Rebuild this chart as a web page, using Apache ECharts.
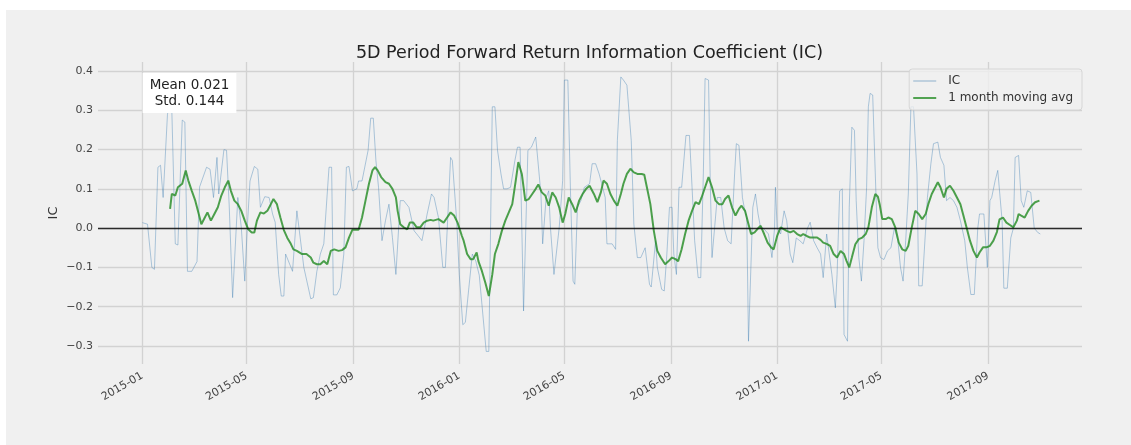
<!DOCTYPE html>
<html>
<head>
<meta charset="utf-8">
<script src="https://cdn.jsdelivr.net/npm/echarts@6/dist/echarts.min.js"></script>
<style>
  html, body { margin: 0; padding: 0; background: #fff; }
  #main { margin-left: 6px; margin-top: 10px; width: 1125px; height: 435px; }
</style>
</head>
<body>
<div id="main"></div>
<script>
const chartDom = document.getElementById('main')
const myChart = echarts.init(chartDom)

const chartTitle = '5D Period Forward Return Information Coefficient (IC)'
const statsText = 'Mean 0.021\nStd. 0.144'
const seriesNames = ['IC', '1 month moving avg']
const yTicks = [-0.3, -0.2, -0.1, 0.0, 0.1, 0.2, 0.3, 0.4]
const xTicks = ['2015-01', '2015-05', '2015-09', '2016-01', '2016-05', '2016-09', '2017-01', '2017-05', '2017-09']
const xRange = ['2014-11-11', '2017-12-18']
const yRange = [-0.346, 0.423]

// daily IC at its turning points
const icDates = [
    '2015-01-01', '2015-01-07', '2015-01-12', '2015-01-15', '2015-01-19', '2015-01-22', '2015-01-25', '2015-01-30',
    '2015-02-01', '2015-02-04', '2015-02-08', '2015-02-11', '2015-02-16', '2015-02-19', '2015-02-22', '2015-02-27',
    '2015-03-05', '2015-03-08', '2015-03-16', '2015-03-20', '2015-03-24', '2015-03-28', '2015-03-30', '2015-04-05',
    '2015-04-08', '2015-04-11', '2015-04-15', '2015-04-17', '2015-04-21', '2015-04-25', '2015-04-29', '2015-05-02',
    '2015-05-05', '2015-05-10', '2015-05-14', '2015-05-17', '2015-05-22', '2015-05-27', '2015-05-31', '2015-06-03',
    '2015-06-07', '2015-06-10', '2015-06-13', '2015-06-15', '2015-06-23', '2015-06-28', '2015-06-30', '2015-07-06',
    '2015-07-14', '2015-07-17', '2015-07-21', '2015-07-25', '2015-07-29', '2015-08-04', '2015-08-07', '2015-08-09',
    '2015-08-13', '2015-08-17', '2015-08-21', '2015-08-24', '2015-08-27', '2015-08-31', '2015-09-05', '2015-09-07',
    '2015-09-11', '2015-09-18', '2015-09-21', '2015-09-24', '2015-09-27', '2015-09-30', '2015-10-04', '2015-10-08',
    '2015-10-12', '2015-10-16', '2015-10-20', '2015-10-22', '2015-10-25', '2015-10-29', '2015-11-04', '2015-11-10',
    '2015-11-13', '2015-11-19', '2015-11-25', '2015-11-30', '2015-12-03', '2015-12-08', '2015-12-13', '2015-12-16',
    '2015-12-20', '2015-12-22', '2015-12-24', '2015-12-29', '2016-01-01', '2016-01-05', '2016-01-08', '2016-01-12',
    '2016-01-16', '2016-01-20', '2016-01-24', '2016-02-01', '2016-02-04', '2016-02-08', '2016-02-11', '2016-02-14',
    '2016-02-18', '2016-02-21', '2016-02-25', '2016-02-29', '2016-03-05', '2016-03-08', '2016-03-11', '2016-03-13',
    '2016-03-15', '2016-03-17', '2016-03-20', '2016-03-24', '2016-03-29', '2016-03-31', '2016-04-04', '2016-04-06',
    '2016-04-08', '2016-04-10', '2016-04-13', '2016-04-15', '2016-04-19', '2016-04-21', '2016-04-25', '2016-04-29',
    '2016-05-01', '2016-05-05', '2016-05-08', '2016-05-11', '2016-05-13', '2016-05-16', '2016-05-20', '2016-05-24',
    '2016-05-30', '2016-06-02', '2016-06-06', '2016-06-10', '2016-06-13', '2016-06-17', '2016-06-19', '2016-06-25',
    '2016-06-29', '2016-07-01', '2016-07-05', '2016-07-08', '2016-07-12', '2016-07-14', '2016-07-17', '2016-07-20',
    '2016-07-24', '2016-07-28', '2016-08-02', '2016-08-07', '2016-08-09', '2016-08-14', '2016-08-16', '2016-08-21',
    '2016-08-24', '2016-08-27', '2016-08-30', '2016-09-02', '2016-09-04', '2016-09-07', '2016-09-10', '2016-09-13',
    '2016-09-18', '2016-09-22', '2016-09-25', '2016-09-28', '2016-10-02', '2016-10-05', '2016-10-08', '2016-10-10',
    '2016-10-14', '2016-10-16', '2016-10-18', '2016-10-20', '2016-10-24', '2016-10-28', '2016-11-01', '2016-11-05',
    '2016-11-09', '2016-11-13', '2016-11-15', '2016-11-18', '2016-11-22', '2016-11-24', '2016-11-27', '2016-11-29',
    '2016-12-01', '2016-12-04', '2016-12-07', '2016-12-10', '2016-12-13', '2016-12-16', '2016-12-22', '2016-12-26',
    '2016-12-29', '2016-12-30', '2017-01-01', '2017-01-05', '2017-01-09', '2017-01-12', '2017-01-16', '2017-01-19',
    '2017-01-23', '2017-01-27', '2017-01-31', '2017-02-05', '2017-02-08', '2017-02-12', '2017-02-16', '2017-02-20',
    '2017-02-23', '2017-02-27', '2017-03-01', '2017-03-05', '2017-03-09', '2017-03-11', '2017-03-14', '2017-03-17',
    '2017-03-19', '2017-03-23', '2017-03-25', '2017-03-28', '2017-03-31', '2017-04-02', '2017-04-05', '2017-04-08',
    '2017-04-11', '2017-04-14', '2017-04-16', '2017-04-18', '2017-04-21', '2017-04-25', '2017-04-27', '2017-04-30',
    '2017-05-04', '2017-05-08', '2017-05-12', '2017-05-16', '2017-05-20', '2017-05-23', '2017-05-26', '2017-05-29',
    '2017-06-01', '2017-06-04', '2017-06-07', '2017-06-11', '2017-06-13', '2017-06-17', '2017-06-21', '2017-06-23',
    '2017-06-27', '2017-06-30', '2017-07-05', '2017-07-08', '2017-07-12', '2017-07-15', '2017-07-19', '2017-07-23',
    '2017-07-27', '2017-07-31', '2017-08-05', '2017-08-08', '2017-08-12', '2017-08-16', '2017-08-20', '2017-08-22',
    '2017-08-27', '2017-08-31', '2017-09-03', '2017-09-05', '2017-09-09', '2017-09-12', '2017-09-14', '2017-09-17',
    '2017-09-19', '2017-09-23', '2017-09-27', '2017-09-30', '2017-10-02', '2017-10-06', '2017-10-09', '2017-10-12',
    '2017-10-16', '2017-10-20', '2017-10-24', '2017-10-28', '2017-10-31'
]
const icValues = [
    0.014, 0.010, -0.100, -0.105, 0.155, 0.160, 0.078, 0.290,
    0.310, 0.300, -0.040, -0.043, 0.275, 0.270, -0.110, -0.110,
    -0.085, 0.105, 0.155, 0.150, 0.078, 0.180, 0.087, 0.200,
    0.198, 0.061, -0.177, -0.180, 0.078, 0.002, -0.135, 0.006,
    0.120, 0.157, 0.150, 0.053, 0.080, 0.078, 0.036, 0.015,
    -0.118, -0.173, -0.173, -0.066, -0.110, 0.044, 0.044, -0.100,
    -0.180, -0.177, -0.110, -0.066, -0.040, 0.155, 0.155, -0.170,
    -0.170, -0.152, -0.066, 0.155, 0.157, 0.095, 0.100, 0.120,
    0.120, 0.198, 0.280, 0.280, 0.172, 0.104, -0.032, 0.019,
    0.061, -0.024, -0.118, -0.115, 0.070, 0.070, 0.053, -0.007,
    -0.015, -0.032, 0.036, 0.087, 0.078, 0.027, -0.100, -0.100,
    0.087, 0.180, 0.172, 0.019, -0.118, -0.246, -0.240, -0.152,
    -0.066, -0.084, -0.120, -0.314, -0.314, 0.309, 0.309, 0.198,
    0.138, 0.100, 0.100, 0.104, 0.172, 0.206, 0.206, 0.000,
    -0.211, -0.211, 0.198, 0.206, 0.232, 0.232, 0.087, -0.040,
    -0.040, 0.078, 0.095, 0.000, -0.118, -0.118, 0.000, 0.121,
    0.377, 0.377, 0.095, -0.135, -0.143, 0.053, 0.070, 0.104,
    0.113, 0.164, 0.164, 0.138, 0.113, 0.078, -0.040, -0.040,
    -0.054, 0.223, 0.385, 0.377, 0.364, 0.360, 0.223, 0.010,
    -0.075, -0.075, -0.050, -0.143, -0.150, -0.032, -0.100, -0.156,
    -0.160, -0.066, 0.053, 0.053, -0.066, -0.118, 0.104, 0.104,
    0.236, 0.236, 0.104, -0.032, -0.126, -0.126, 0.138, 0.381,
    0.377, 0.113, -0.075, -0.075, 0.078, 0.078, 0.000, -0.032,
    -0.040, 0.138, 0.215, 0.211, 0.078, 0.053, 0.027, -0.288,
    -0.288, 0.053, 0.087, 0.036, 0.000, 0.000, -0.015, -0.075,
    0.000, 0.104, 0.000, -0.015, 0.044, 0.019, -0.066, -0.088,
    -0.025, -0.032, -0.040, 0.000, 0.015, -0.032, -0.050, -0.066,
    -0.126, -0.015, -0.015, -0.118, -0.203, -0.118, 0.095, 0.100,
    -0.271, -0.288, 0.053, 0.257, 0.249, 0.070, -0.075, -0.135,
    -0.032, 0.104, 0.309, 0.343, 0.339, 0.070, -0.050, -0.075,
    -0.080, -0.058, -0.050, 0.000, -0.032, -0.100, -0.135, -0.032,
    0.087, 0.309, 0.309, 0.138, -0.147, -0.147, 0.000, 0.078,
    0.164, 0.215, 0.219, 0.180, 0.160, 0.070, 0.078, 0.070,
    0.053, 0.019, -0.032, -0.100, -0.169, -0.169, 0.000, 0.036,
    0.036, -0.100, 0.070, 0.078, 0.121, 0.147, 0.147, 0.019,
    -0.153, -0.153, -0.025, 0.000, 0.180, 0.185, 0.070, 0.053,
    0.095, 0.091, 0.000, -0.011, -0.015
]

// 1 month (22 day) rolling mean of the IC
const maDates = [
    '2015-02-02', '2015-02-04', '2015-02-08', '2015-02-11', '2015-02-16', '2015-02-20', '2015-02-23', '2015-02-27',
    '2015-03-03', '2015-03-07', '2015-03-10', '2015-03-14', '2015-03-17', '2015-03-21', '2015-03-25', '2015-03-29',
    '2015-04-02', '2015-04-06', '2015-04-10', '2015-04-13', '2015-04-17', '2015-04-21', '2015-04-25', '2015-04-29',
    '2015-05-03', '2015-05-07', '2015-05-10', '2015-05-13', '2015-05-17', '2015-05-21', '2015-05-25', '2015-05-29',
    '2015-06-01', '2015-06-05', '2015-06-09', '2015-06-13', '2015-06-17', '2015-06-21', '2015-06-24', '2015-06-28',
    '2015-07-04', '2015-07-09', '2015-07-14', '2015-07-17', '2015-07-21', '2015-07-25', '2015-07-29', '2015-08-02',
    '2015-08-06', '2015-08-10', '2015-08-15', '2015-08-19', '2015-08-23', '2015-08-27', '2015-08-31', '2015-09-03',
    '2015-09-07', '2015-09-11', '2015-09-15', '2015-09-19', '2015-09-23', '2015-09-26', '2015-09-29', '2015-10-03',
    '2015-10-08', '2015-10-12', '2015-10-16', '2015-10-20', '2015-10-22', '2015-10-25', '2015-10-29', '2015-11-02',
    '2015-11-05', '2015-11-09', '2015-11-13', '2015-11-17', '2015-11-21', '2015-11-25', '2015-11-29', '2015-12-02',
    '2015-12-08', '2015-12-14', '2015-12-18', '2015-12-22', '2015-12-26', '2015-12-30', '2016-01-04', '2016-01-06',
    '2016-01-10', '2016-01-14', '2016-01-17', '2016-01-21', '2016-01-23', '2016-01-27', '2016-01-31', '2016-02-04',
    '2016-02-08', '2016-02-11', '2016-02-15', '2016-02-19', '2016-02-23', '2016-02-27', '2016-03-02', '2016-03-06',
    '2016-03-09', '2016-03-13', '2016-03-17', '2016-03-21', '2016-03-25', '2016-03-29', '2016-04-01', '2016-04-05',
    '2016-04-09', '2016-04-13', '2016-04-17', '2016-04-21', '2016-04-25', '2016-04-29', '2016-05-02', '2016-05-06',
    '2016-05-10', '2016-05-14', '2016-05-18', '2016-05-22', '2016-05-26', '2016-05-30', '2016-06-01', '2016-06-04',
    '2016-06-08', '2016-06-12', '2016-06-15', '2016-06-19', '2016-06-23', '2016-06-27', '2016-07-01', '2016-07-05',
    '2016-07-08', '2016-07-12', '2016-07-16', '2016-07-20', '2016-07-24', '2016-07-29', '2016-08-01', '2016-08-04',
    '2016-08-08', '2016-08-12', '2016-08-16', '2016-08-20', '2016-08-25', '2016-08-29', '2016-09-02', '2016-09-06',
    '2016-09-09', '2016-09-13', '2016-09-17', '2016-09-21', '2016-09-25', '2016-09-29', '2016-10-03', '2016-10-06',
    '2016-10-10', '2016-10-14', '2016-10-18', '2016-10-22', '2016-10-26', '2016-10-30', '2016-11-02', '2016-11-06',
    '2016-11-10', '2016-11-14', '2016-11-18', '2016-11-21', '2016-11-25', '2016-11-29', '2016-12-02', '2016-12-06',
    '2016-12-09', '2016-12-13', '2016-12-17', '2016-12-21', '2016-12-25', '2016-12-28', '2017-01-01', '2017-01-05',
    '2017-01-09', '2017-01-12', '2017-01-16', '2017-01-20', '2017-01-24', '2017-01-28', '2017-01-31', '2017-02-04',
    '2017-02-08', '2017-02-12', '2017-02-16', '2017-02-20', '2017-02-23', '2017-02-27', '2017-03-03', '2017-03-07',
    '2017-03-11', '2017-03-15', '2017-03-19', '2017-03-22', '2017-03-25', '2017-03-28', '2017-04-01', '2017-04-05',
    '2017-04-09', '2017-04-13', '2017-04-16', '2017-04-20', '2017-04-24', '2017-04-27', '2017-04-29', '2017-05-02',
    '2017-05-06', '2017-05-09', '2017-05-13', '2017-05-17', '2017-05-21', '2017-05-25', '2017-05-29', '2017-06-01',
    '2017-06-05', '2017-06-09', '2017-06-13', '2017-06-17', '2017-06-21', '2017-06-24', '2017-06-28', '2017-07-02',
    '2017-07-05', '2017-07-08', '2017-07-12', '2017-07-15', '2017-07-19', '2017-07-23', '2017-07-27', '2017-07-31',
    '2017-08-03', '2017-08-07', '2017-08-11', '2017-08-15', '2017-08-19', '2017-08-22', '2017-08-26', '2017-08-30',
    '2017-09-03', '2017-09-07', '2017-09-11', '2017-09-14', '2017-09-18', '2017-09-22', '2017-09-26', '2017-09-30',
    '2017-10-04', '2017-10-06', '2017-10-09', '2017-10-13', '2017-10-17', '2017-10-21', '2017-10-25', '2017-10-30'
]
const maValues = [
    0.049, 0.087, 0.083, 0.104, 0.113, 0.147, 0.121, 0.095,
    0.070, 0.036, 0.010, 0.027, 0.040, 0.019, 0.036, 0.053,
    0.083, 0.104, 0.121, 0.095, 0.070, 0.061, 0.044, 0.019,
    -0.003, -0.011, -0.011, 0.019, 0.040, 0.037, 0.044, 0.061,
    0.074, 0.061, 0.027, -0.005, -0.025, -0.040, -0.054, -0.058,
    -0.066, -0.066, -0.075, -0.088, -0.092, -0.092, -0.084, -0.092,
    -0.058, -0.054, -0.058, -0.056, -0.049, -0.024, -0.004, -0.004,
    -0.004, 0.027, 0.070, 0.113, 0.147, 0.155, 0.147, 0.130,
    0.117, 0.113, 0.100, 0.078, 0.044, 0.010, 0.002, -0.003,
    0.014, 0.014, 0.002, 0.002, 0.014, 0.019, 0.021, 0.019,
    0.023, 0.014, 0.027, 0.040, 0.032, 0.014, -0.020, -0.032,
    -0.066, -0.079, -0.079, -0.062, -0.084, -0.109, -0.139, -0.173,
    -0.118, -0.066, -0.040, -0.007, 0.019, 0.040, 0.061, 0.121,
    0.168, 0.138, 0.070, 0.074, 0.087, 0.100, 0.111, 0.091,
    0.083, 0.057, 0.091, 0.078, 0.053, 0.014, 0.036, 0.078,
    0.061, 0.040, 0.070, 0.087, 0.100, 0.108, 0.104, 0.087,
    0.066, 0.091, 0.121, 0.113, 0.087, 0.070, 0.057, 0.087,
    0.113, 0.138, 0.151, 0.142, 0.138, 0.138, 0.136, 0.104,
    0.061, -0.007, -0.058, -0.075, -0.092, -0.084, -0.075, -0.079,
    -0.084, -0.054, -0.015, 0.019, 0.044, 0.066, 0.061, 0.078,
    0.104, 0.130, 0.104, 0.070, 0.061, 0.061, 0.074, 0.083,
    0.053, 0.032, 0.049, 0.057, 0.044, 0.010, -0.015, -0.011,
    -0.003, 0.006, -0.015, -0.037, -0.049, -0.054, -0.020, 0.002,
    -0.003, -0.007, -0.011, -0.007, -0.015, -0.020, -0.015, -0.020,
    -0.024, -0.024, -0.024, -0.030, -0.037, -0.040, -0.045, -0.066,
    -0.075, -0.058, -0.066, -0.084, -0.100, -0.075, -0.041, -0.028,
    -0.024, -0.015, 0.002, 0.053, 0.087, 0.080, 0.061, 0.023,
    0.023, 0.027, 0.023, 0.002, -0.037, -0.054, -0.058, -0.045,
    0.002, 0.044, 0.036, 0.023, 0.036, 0.061, 0.087, 0.104,
    0.117, 0.104, 0.078, 0.100, 0.108, 0.095, 0.078, 0.061,
    0.036, 0.002, -0.032, -0.058, -0.075, -0.062, -0.049, -0.049,
    -0.045, -0.032, -0.010, 0.022, 0.027, 0.014, 0.008, 0.002,
    0.019, 0.036, 0.032, 0.027, 0.044, 0.057, 0.066, 0.070
]

function toTime(s) {
    const p = s.split('-')
    return new Date(+p[0], +p[1] - 1, p[2] ? +p[2] : 1).getTime()
}

function fmtY(v) {
    return v.toFixed(1).replace('-', '\u2212')
}

function fmtX(v) {
    const d = new Date(v)
    const m = d.getMonth() + 1
    return d.getFullYear() + '-' + (m < 10 ? '0' + m : m)
}

const xTickTimes = xTicks.map(toTime)
const gridLine = { show: true, lineStyle: { color: '#d2d2d2', width: 1.3 } }
const icColor = 'rgba(70,130,180,0.42)'
const maColor = 'rgba(34,139,34,0.8)'

const option = {
    backgroundColor: '#f0f0f0',
    animation: false,
    textStyle: { fontFamily: 'DejaVu Sans' },
    title: {
        text: chartTitle,
        left: 583.5,
        top: 34,
        textAlign: 'center',
        padding: 0,
        textStyle: { fontSize: 17.5, fontWeight: 'normal', color: '#222', fontFamily: 'DejaVu Sans' }
    },
    legend: {
        // thin bars as legend keys, like a line sample
        data: [
            { name: seriesNames[0], icon: 'path://M0,0H24V1H0Z', itemStyle: { color: 'rgba(70,130,180,0.6)' } },
            { name: seriesNames[1], icon: 'path://M0,0H24V2H0Z', itemStyle: { color: maColor } }
        ],
        orient: 'vertical',
        right: 49,
        top: 59,
        padding: [6, 9, 6, 4],
        itemWidth: 23,
        itemHeight: 14,
        itemGap: 5,
        borderColor: '#d6d6d6',
        borderWidth: 1,
        borderRadius: 3,
        backgroundColor: 'rgba(240,240,240,0.8)',
        textStyle: { fontSize: 12, color: '#333', padding: [0, 0, 0, 7], fontFamily: 'DejaVu Sans' }
    },
    grid: { left: 92, right: 49, top: 52, bottom: 81, outerBoundsMode: 'none' },
    // dates are plotted as timestamps on a value axis so the month ticks can be placed exactly
    xAxis: {
        type: 'value',
        min: toTime(xRange[0]),
        max: toTime(xRange[1]),
        axisLine: { show: false },
        axisTick: { show: false, customValues: xTickTimes },
        axisLabel: {
            customValues: xTickTimes,
            formatter: fmtX,
            rotate: 30,
            margin: 11,
            fontSize: 11,
            color: '#444',
            fontFamily: 'DejaVu Sans'
        },
        splitLine: gridLine
    },
    yAxis: {
        type: 'value',
        min: yRange[0],
        max: yRange[1],
        name: 'IC',
        nameLocation: 'middle',
        nameRotate: 90,
        nameGap: 38,
        nameMoveOverlap: false,
        nameTextStyle: { fontSize: 13, color: '#333', fontFamily: 'DejaVu Sans' },
        axisLine: { show: false },
        axisTick: { show: false, customValues: yTicks },
        axisLabel: { customValues: yTicks, formatter: fmtY, margin: 5, fontSize: 11, color: '#444', fontFamily: 'DejaVu Sans' },
        splitLine: gridLine
    },
    graphic: [
        {
            type: 'text',
            x: 183.5,
            y: 63,
            z: 100,
            style: {
                text: statsText,
                fontSize: 13.5,
                fontFamily: 'DejaVu Sans',
                fill: '#222',
                align: 'center',
                verticalAlign: 'top',
                lineHeight: 16,
                backgroundColor: '#fff',
                padding: [4, 7]
            }
        }
    ],
    series: [
        {
            name: seriesNames[0],
            type: 'line',
            data: icDates.map((d, i) => [toTime(d), icValues[i]]),
            showSymbol: false,
            symbol: 'none',
            z: 2,
            lineStyle: { color: icColor, width: 1 },
            itemStyle: { color: icColor },
            markLine: {
                silent: true,
                symbol: 'none',
                label: { show: false },
                lineStyle: { color: 'rgba(0,0,0,0.8)', width: 1.3, type: 'solid' },
                data: [{ yAxis: 0 }]
            }
        },
        {
            name: seriesNames[1],
            type: 'line',
            data: maDates.map((d, i) => [toTime(d), maValues[i]]),
            showSymbol: false,
            symbol: 'none',
            z: 3,
            lineStyle: { color: maColor, width: 2 },
            itemStyle: { color: maColor }
        }
    ]
}

myChart.setOption(option)
</script>
</body>
</html>
